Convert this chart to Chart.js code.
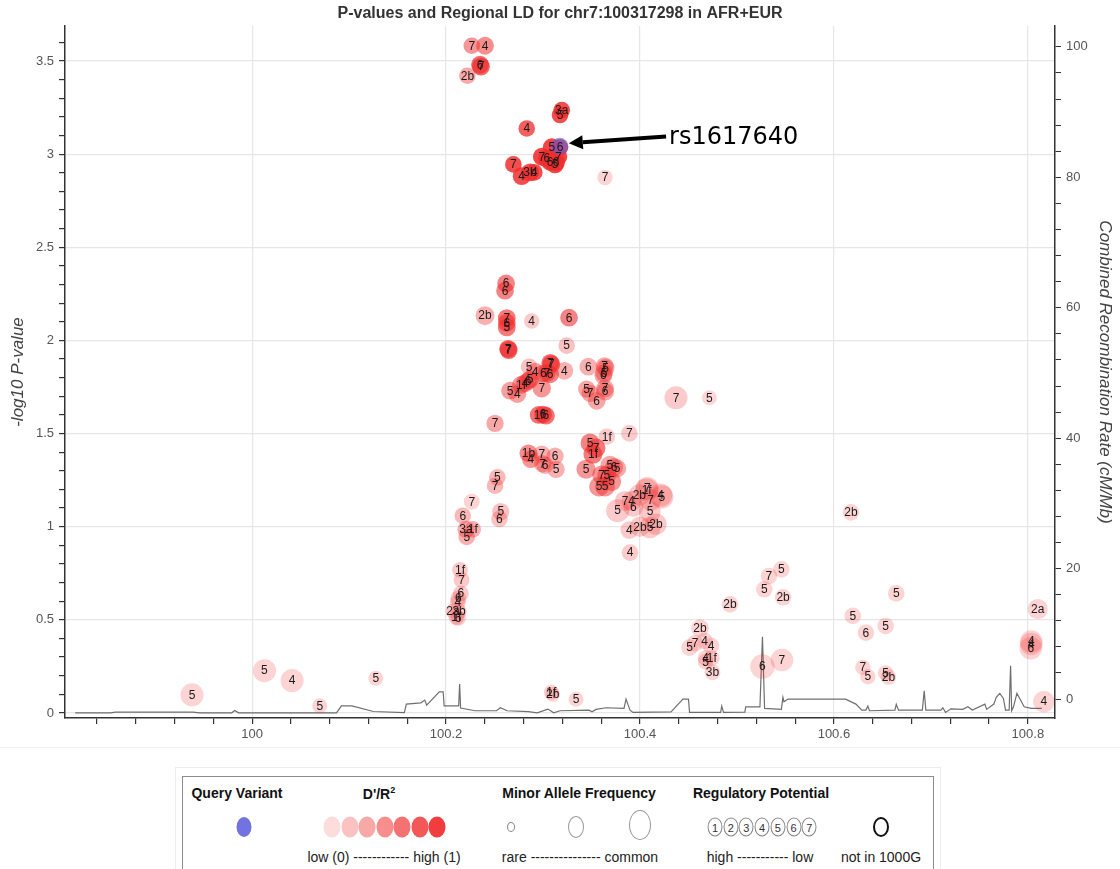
<!DOCTYPE html>
<html><head><meta charset="utf-8">
<script src="https://cdn.jsdelivr.net/npm/chart.js@4.4.1/dist/chart.umd.min.js"></script>
<style>
html,body{margin:0;padding:0;background:#fff;width:1120px;height:869px;overflow:hidden;font-family:"Liberation Sans",Arial,sans-serif;}
#wrap{position:absolute;left:0;top:0;width:1120px;height:750px;}
#sep{position:absolute;left:0;top:747px;width:1120px;height:1px;background:#f0f0f0;}
#legOuter{position:absolute;left:175px;top:767px;width:764px;height:130px;border:1px solid #ececec;}
#leg{position:absolute;left:182px;top:776px;width:750px;height:130px;border:1.5px solid #8c8c8c;background:#fff;}
.t{position:absolute;transform:translateX(-50%);white-space:nowrap;color:#111;}
.h{font-weight:bold;font-size:14px;top:8px;}
.s{font-size:14px;top:72px;color:#222;}
.c{position:absolute;border-radius:50%;transform:translate(-50%,-50%);box-sizing:border-box;}
.n{font-size:11px;color:#333;display:flex;align-items:center;justify-content:center;border:1px solid #888;}
</style></head>
<body>
<div id="wrap"><canvas id="c" width="1120" height="750"></canvas></div>
<div id="sep"></div>
<div id="legOuter"></div>
<div id="leg">
  <div class="t h" style="left:54px">Query Variant</div>
  <div class="c" style="left:61px;top:50px;width:15px;height:20px;background:#7272e0"></div>
  <div class="t h" style="left:196px">D'/R<sup style="font-size:9px">2</sup></div>
  <div id="ldShades"></div>
  <div class="t s" style="left:201px">low (0) ------------ high (1)</div>
  <div class="t h" style="left:396px">Minor Allele Frequency</div>
  <div class="c" style="left:328px;top:50px;width:8px;height:10px;border:1px solid #888"></div>
  <div class="c" style="left:393px;top:50px;width:16px;height:22px;border:1.5px solid #999"></div>
  <div class="c" style="left:457px;top:48px;width:22px;height:30px;border:1.5px solid #999"></div>
  <div class="t s" style="left:397px">rare --------------- common</div>
  <div class="t h" style="left:578px">Regulatory Potential</div>
  <div id="regCircles"></div>
  <div class="t s" style="left:577px">high ----------- low</div>
  <div class="c" style="left:698px;top:50px;width:16px;height:20px;border:2px solid #111"></div>
  <div class="t s" style="left:698px">not in 1000G</div>
</div>
<script>
// ---------- axis tick labels ----------
const xTickLabels = ['100','100.2','100.4','100.6','100.8'];
const yTickLabels = ['0','0.5','1','1.5','2','2.5','3','3.5'];
const y2TickLabels = ['0','20','40','60','80','100'];

// ---------- recombination rate (cM/Mb) ----------
const recombPos = [99.8175,99.854,99.859,99.939,99.946,99.979,99.982,99.986,100.087,100.092,100.103,100.125,100.157,100.159,100.174,100.178,100.180,100.193,100.197,100.198,100.213,100.214,100.215,100.230,100.252,100.256,100.263,100.285,100.294,100.305,100.311,100.3175,100.3474,100.3505,100.3546,100.365,100.3835,100.3856,100.3897,100.3928,100.432,100.4443,100.450,100.4511,100.4832,100.4843,100.4862,100.5082,100.509,100.5237,100.5263,100.5285,100.5458,100.5474,100.5485,100.5526,100.612,100.6227,100.6287,100.633,100.635,100.6366,100.6629,100.6643,100.6666,100.6912,100.6931,100.6948,100.7103,100.7123,100.7151,100.7206,100.733,100.7381,100.7428,100.7557,100.7575,100.7649,100.7674,100.7711,100.7748,100.777,100.7807,100.7822,100.7833,100.7852,100.7887,100.7925,100.7962,100.8035,100.8144];
const recombRate = [-2.1,-2.1,-2.0,-2.0,-2.1,-2.1,-1.76,-2.1,-2.1,-1.03,-1.03,-1.9,-2.07,-0.77,-0.57,-0.15,-0.92,1.12,1.12,-1.03,-1.03,2.3,-1.38,-1.79,-1.79,-1.33,-1.79,-1.92,-2.1,-1.53,-2.1,-1.79,-1.69,-1.95,-1.58,-1.33,-1.43,0,-1.69,-2.04,-1.95,0,0,-2.04,-2.04,-1.07,-2.04,-2.0,-1.18,-1.18,9.55,-1.43,-1.58,0.26,-0.41,0,0,-0.77,-1.69,-1.69,-1.07,-1.79,-1.69,-0.81,-1.69,-1.69,1.27,-1.69,-1.69,-1.33,-2.04,-1.49,-1.58,-1.18,-1.69,-0.77,-1.58,-0.77,0.26,0.87,0.11,-1.69,-1.69,5.1,-1.79,-1.18,0.87,-0.15,-1.18,-1.43,-1.43];

// ---------- variants ----------
const snpPos = [100.2265,100.2402,100.2350,100.2360,100.2220,100.3193,100.3175,100.2832,100.3090,100.3175,100.3158,100.2987,100.3038,100.3072,100.3124,100.3134,100.2694,100.2780,100.2866,100.2910,100.3639,
100.2619,100.2608,100.2402,100.2626,100.2626,100.2626,100.2883,100.3268,100.2640,100.2646,100.3244,100.3075,100.3085,100.2856,100.2918,100.3003,100.3040,100.3072,100.3220,100.3467,100.3635,100.3645,100.3622,100.3630,100.2660,100.2735,100.2773,100.2814,100.2845,100.2866,100.2987,100.2955,100.3000,100.3030,100.2505,100.3450,100.3485,100.3553,100.3640,100.3640,100.4371,100.4715,100.3657,100.3890,100.3485,100.3546,100.3515,
100.2849,100.2873,100.2987,100.2995,100.3020,100.3124,100.3134,100.3443,100.3690,100.3732,100.3763,100.3605,100.3657,100.3708,100.3577,100.3639,100.3770,100.3845,100.3914,100.3931,100.3993,100.4069,100.4075,100.4110,100.4213,100.4225,100.4103,100.3890,100.4000,100.4103,100.4165,100.3897,
100.2529,100.2505,100.2265,100.2172,100.2564,100.2550,100.2206,100.2275,100.2213,100.2144,100.2159,100.2152,100.2126,100.2122,100.2071,100.2134,100.2105,100.2125,
99.9380,100.0127,100.0412,100.0697,100.1275,100.3085,100.3100,100.3340,100.6175,100.5458,100.5330,100.5282,100.5476,100.4928,100.6643,100.8102,100.6195,100.6533,100.6330,100.4619,100.4567,100.4511,100.4666,100.4732,100.4677,100.4740,100.4677,100.4748,100.5263,100.5464,100.6298,100.6350,100.6533,100.6563,100.8035,100.8035,100.8030,100.8165];
const snpLogP = [3.582,3.582,3.480,3.470,3.421,3.237,3.210,3.138,3.037,3.037,2.986,2.986,2.977,2.959,2.945,2.957,2.945,2.882,2.902,2.902,2.875,
2.306,2.267,2.133,2.120,2.095,2.070,2.104,2.122,1.955,1.948,1.972,1.880,1.872,1.859,1.832,1.823,1.826,1.818,1.837,1.859,1.862,1.852,1.812,1.826,1.730,1.712,1.761,1.771,1.782,1.790,1.743,1.600,1.602,1.596,1.555,1.739,1.716,1.676,1.742,1.725,1.692,1.692,1.483,1.501,1.449,1.422,1.389,
1.394,1.362,1.390,1.338,1.330,1.379,1.308,1.308,1.330,1.320,1.313,1.278,1.278,1.242,1.215,1.215,1.086,1.138,1.138,1.107,1.170,1.197,1.205,1.143,1.170,1.160,1.081,0.982,1.000,0.995,1.014,0.861,
1.265,1.220,1.134,1.059,1.081,1.041,0.986,0.986,0.945,0.768,0.714,0.642,0.615,0.594,0.547,0.544,0.514,0.510,
0.097,0.227,0.174,0.039,0.186,0.112,0.100,0.074,1.077,0.771,0.735,0.664,0.621,0.583,0.642,0.558,0.521,0.467,0.431,0.455,0.374,0.351,0.386,0.360,0.294,0.294,0.275,0.218,0.249,0.284,0.245,0.195,0.215,0.193,0.383,0.370,0.347,0.061];
const snpRegLabel = ['7','4','6','7','2b','3a','5','4','5','6','7','7','6','6','5','6','7','4','3b','4','7',
'6','6','2b','7','6','5','4','6','7','7','5','7','7','5','4','6','7','6','4','6','7','5','6','5','5','4','1f','4','6','5','7','1f','6','6','7','5','7','6','7','6','7','5','1f','7','5','7','1f',
'1b','4','7','7','6','6','5','5','5','6','5','7','5','5','5','5','5','7','4','6','2b','1f','7','7','4','5','5','4','2b','5','2b','4',
'5','7','7','6','5','6','3a','1f','5','1f','7','6','6','4','2a','3b','1f','6',
'5','5','4','5','5','1f','2b','5','2b','5','7','5','2b','2b','5','2a','5','5','6','2b','7','5','4','4','4','1f','5','3b','6','7','7','5','5','2b','4','4','6','4'];
const snpLD = [0.45,0.5,0.7,0.7,0.35,0.85,0.85,0.75,0.9,0.9,0.9,0.9,0.9,0.9,0.9,0.9,0.85,0.85,0.85,0.85,0.1,
0.55,0.55,0.3,0.6,0.6,0.6,0.15,0.55,0.7,0.7,0.2,0.65,0.65,0.2,0.4,0.45,0.5,0.55,0.3,0.3,0.35,0.35,0.35,0.35,0.4,0.4,0.45,0.45,0.45,0.45,0.45,0.65,0.65,0.65,0.35,0.35,0.35,0.35,0.35,0.35,0.15,0.08,0.15,0.15,0.55,0.6,0.6,
0.5,0.45,0.3,0.3,0.3,0.3,0.3,0.45,0.35,0.35,0.35,0.45,0.45,0.45,0.45,0.45,0.15,0.15,0.15,0.15,0.15,0.15,0.15,0.15,0.15,0.15,0.15,0.15,0.15,0.15,0.15,0.15,
0.25,0.25,0.1,0.25,0.2,0.2,0.3,0.3,0.3,0.15,0.15,0.15,0.15,0.15,0.15,0.15,0.15,0.15,
0.1,0.1,0.1,0.1,0.1,0.1,0.1,0.1,0.1,0.1,0.1,0.1,0.1,0.1,0.1,0.1,0.1,0.1,0.1,0.1,0.1,0.1,0.1,0.1,0.1,0.1,0.1,0.1,0.1,0.1,0.1,0.1,0.1,0.1,0.1,0.1,0.1,0.1];
const snpMAF = [0.15,0.2,0.2,0.2,0.15,0.15,0.15,0.15,0.2,0.15,0.2,0.2,0.2,0.2,0.2,0.2,0.15,0.2,0.2,0.15,0.1,
0.2,0.2,0.25,0.2,0.2,0.2,0.1,0.2,0.2,0.2,0.15,0.2,0.2,0.15,0.2,0.2,0.2,0.2,0.2,0.2,0.2,0.2,0.2,0.2,0.2,0.2,0.2,0.2,0.2,0.2,0.22,0.2,0.2,0.2,0.18,0.18,0.18,0.2,0.2,0.2,0.42,0.08,0.15,0.15,0.25,0.25,0.25,
0.2,0.18,0.18,0.18,0.18,0.18,0.18,0.25,0.25,0.22,0.22,0.25,0.25,0.25,0.28,0.28,0.42,0.3,0.3,0.3,0.35,0.42,0.42,0.35,0.42,0.42,0.35,0.2,0.3,0.35,0.35,0.15,
0.15,0.15,0.12,0.15,0.18,0.15,0.18,0.15,0.15,0.12,0.12,0.12,0.12,0.12,0.08,0.1,0.1,0.1,
0.42,0.42,0.42,0.08,0.08,0.08,0.08,0.08,0.15,0.15,0.15,0.15,0.15,0.15,0.15,0.3,0.15,0.15,0.15,0.2,0.15,0.15,0.15,0.15,0.12,0.12,0.12,0.12,0.48,0.4,0.1,0.1,0.1,0.1,0.4,0.4,0.4,0.35];

const queryPos = [100.317298];
const queryLogP = [3.043];
const queryName = 'rs1617640';
const queryLabelAt = [100.430, 3.09];

// ---------- styling helpers ----------
function ldColor(ld){ return 'rgba(240,45,45,' + (0.12 + 0.85*ld).toFixed(3) + ')'; }
function mafRadius(m){ return 6.5 + m*12; }
const near = (a,b)=>Math.abs(a-b)<1e-6;
const xMajor = xTickLabels.map(Number), yMajor = yTickLabels.map(Number), y2Major = y2TickLabels.map(Number);
function seq(a,b,step){ const out=[]; const n=Math.round((b-a)/step); for(let i=0;i<=n;i++) out.push(Math.round((a+i*step)*1000)/1000); return out; }

// legend shading / numbered circles
(function(){
  const sh=document.getElementById('ldShades');
  [0.05,0.2,0.35,0.5,0.65,0.8,0.95].forEach((v,i)=>{
    const d=document.createElement('div'); d.className='c';
    d.style.cssText='left:'+(149+i*17.5)+'px;top:50px;width:17px;height:21px;background:'+ldColor(v);
    sh.appendChild(d);
  });
  const rc=document.getElementById('regCircles');
  for(let i=1;i<=7;i++){
    const d=document.createElement('div'); d.className='c n';
    d.style.cssText='left:'+(532+(i-1)*15.7)+'px;top:50px;width:15px;height:19px;';
    d.textContent=i; rc.appendChild(d);
  }
})();

const tickFont = {family:'"Liberation Sans", Arial, sans-serif', size:13};

const pointLabels = {
  id:'pointLabels',
  afterDatasetsDraw(chart){
    const ctx=chart.ctx, meta=chart.getDatasetMeta(1);
    ctx.save();
    ctx.font='12px "Liberation Sans", Arial, sans-serif';
    ctx.fillStyle='#1a1a1a'; ctx.textAlign='center'; ctx.textBaseline='middle';
    meta.data.forEach((el,i)=>ctx.fillText(snpRegLabel[i], el.x, el.y+0.5));
    // arrow + query name
    const q=chart.getDatasetMeta(2).data[0];
    const tx=chart.scales.x.getPixelForValue(queryLabelAt[0]);
    const ty=chart.scales.y.getPixelForValue(queryLabelAt[1]);
    const ex=q.x+9, ey=q.y-3, sx=tx-3, sy=ty-1;
    const ang=Math.atan2(ey-sy, ex-sx), hl=14, hw=7;
    const bx=ex-hl*Math.cos(ang), by=ey-hl*Math.sin(ang);
    ctx.strokeStyle='#000'; ctx.lineWidth=4; ctx.lineCap='butt';
    ctx.beginPath(); ctx.moveTo(sx,sy); ctx.lineTo(bx,by); ctx.stroke();
    ctx.fillStyle='#000'; ctx.beginPath();
    ctx.moveTo(ex,ey);
    ctx.lineTo(bx+hw*Math.sin(ang), by-hw*Math.cos(ang));
    ctx.lineTo(bx-hw*Math.sin(ang), by+hw*Math.cos(ang));
    ctx.closePath(); ctx.fill();
    ctx.font='24px "DejaVu Sans", sans-serif'; ctx.textAlign='left'; ctx.textBaseline='middle';
    ctx.fillText(queryName, tx, ty);
    ctx.restore();
  }
};

new Chart(document.getElementById('c'), {
  type:'scatter',
  data:{datasets:[
    {type:'line', data:recombPos.map((x,i)=>({x, y:recombRate[i]})), yAxisID:'y2', borderColor:'rgba(95,95,95,0.9)', borderWidth:1.2, pointRadius:0, tension:0, fill:false, order:3},
    {data:snpPos.map((x,i)=>({x, y:snpLogP[i]})), yAxisID:'y', backgroundColor:snpLD.map(ldColor), borderWidth:0, pointRadius:snpMAF.map(mafRadius), pointHoverRadius:snpMAF.map(mafRadius), order:2},
    {data:queryPos.map((x,i)=>({x, y:queryLogP[i]})), yAxisID:'y', backgroundColor:'rgba(95,95,225,0.6)', borderWidth:0, pointRadius:8.5, order:1}
  ]},
  options:{
    responsive:false, animation:false, devicePixelRatio:1, events:[],
    layout:{padding:0},
    plugins:{
      legend:{display:false}, tooltip:{enabled:false},
      title:{display:true, text:'P-values and Regional LD for chr7:100317298 in AFR+EUR', color:'#333',
        font:{family:'"Liberation Sans", Arial, sans-serif', size:16, weight:'bold'}, padding:{top:4,bottom:2.8}}
    },
    scales:{
      x:{type:'linear', min:99.807, max:100.828,
        afterBuildTicks:s=>{ s.ticks=seq(99.84,100.8,0.04).map(v=>({value:v})); },
        afterFit:s=>{ s.height=32; },
        ticks:{autoSkip:false, maxRotation:0, color:'#555', font:tickFont, padding:3,
          callback:v=>{ const k=xMajor.findIndex(m=>near(m,v)); return k>=0?xTickLabels[k]:''; }},
        grid:{color:c=>(c.tick && xMajor.some(m=>near(m,c.tick.value)))?'#e6e6e6':'rgba(0,0,0,0)', tickColor:'#333', tickLength:6, lineWidth:1.2},
        border:{color:'#333', width:1.5}
      },
      y:{type:'linear', position:'left', min:-0.027, max:3.688,
        afterBuildTicks:s=>{ s.ticks=seq(0,3.6,0.1).map(v=>({value:v})); },
        afterFit:s=>{ s.width=65; },
        ticks:{autoSkip:false, color:'#555', font:tickFont, padding:5,
          callback:v=>{ const k=yMajor.findIndex(m=>near(m,v)); return k>=0?yTickLabels[k]:''; }},
        grid:{color:c=>(c.tick && yMajor.some(m=>near(m,c.tick.value)))?'#e6e6e6':'rgba(0,0,0,0)', tickColor:'#333', tickLength:6, lineWidth:1.2},
        border:{color:'#333', width:1.5},
        title:{display:true, text:'-log10 P-value', color:'#444', padding:{top:8,bottom:0},
          font:{family:'"Liberation Sans", Arial, sans-serif', size:17, style:'italic'}}
      },
      y2:{type:'linear', position:'right', min:-2.9, max:103.2,
        afterBuildTicks:s=>{ s.ticks=seq(0,100,4).map(v=>({value:v})); },
        afterFit:s=>{ s.width=65; },
        ticks:{autoSkip:false, color:'#555', font:tickFont, padding:5,
          callback:v=>{ const k=y2Major.findIndex(m=>near(m,v)); return k>=0?y2TickLabels[k]:''; }},
        grid:{drawOnChartArea:false, tickColor:'#333', tickLength:6},
        border:{color:'#333', width:1.5},
        title:{display:true, text:'Combined Recombination Rate (cM/Mb)', color:'#444', padding:{top:5,bottom:0},
          font:{family:'"Liberation Sans", Arial, sans-serif', size:17, style:'italic'}}
      }
    }
  },
  plugins:[pointLabels]
});
</script>
</body></html>
